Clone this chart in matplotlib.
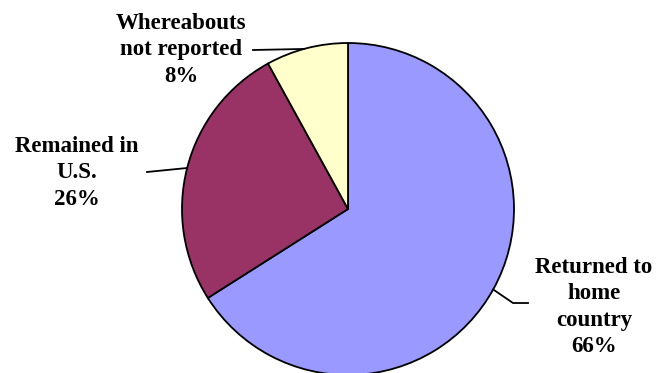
import numpy as np
import matplotlib.pyplot as plt

labels = ['Returned to\nhome\ncountry', 'Remained in\nU.S.', 'Whereabouts\nnot reported']
shares = [66, 26, 8]
colors = ['#9999FF', '#993366', '#FFFFCC']

if __name__ == '__main__':
    fig = plt.figure(figsize=(6.57, 3.73), dpi=100)
    ax = fig.add_axes([0, 0, 1, 1])

    cx, cy, r = 348, 164, 166
    ax.pie(shares, colors=colors, startangle=90, counterclock=False,
           center=(cx, cy), radius=r, frame=True,
           wedgeprops=dict(edgecolor='black', linewidth=1.3))
    ax.set_xlim(0, 657)
    ax.set_ylim(0, 373)
    ax.set_aspect('equal')
    ax.axis('off')

    font = dict(family='Liberation Serif', fontweight='bold', fontsize=16.5,
                ha='center', va='center', multialignment='center', linespacing=1.34)
    # label positions, leader line start/bend points, and arc angle of the leader end
    text_pos = [(594, 66), (77, 200), (181, 323)]
    leader = [[(528, 70), (513, 70)], [(147, 201)], [(253, 323)]]
    anchor_deg = [-29, 165.7, 105.4]

    for lab, s, tp, pts, a in zip(labels, shares, text_pos, leader, anchor_deg):
        ax.text(tp[0], tp[1], f'{lab}\n{s}%', **font)
        end = (cx + r * np.cos(np.radians(a)), cy + r * np.sin(np.radians(a)))
        xs = [p[0] for p in pts] + [end[0]]
        ys = [p[1] for p in pts] + [end[1]]
        ax.plot(xs, ys, color='black', linewidth=1.3)

    fig.savefig('out.png', dpi=100)
